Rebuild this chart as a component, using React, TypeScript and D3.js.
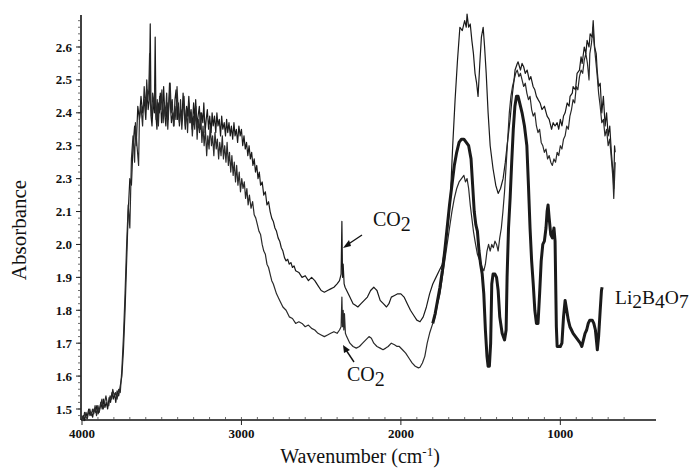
import React from "react";
import * as d3 from "d3";

type P = [number, number];

// Upper thin spectrum (wavenumber, absorbance)
const seriesA: P[] = [
[4000,1.47],[3991,1.48],[3983,1.465],[3975,1.49],[3968,1.475],[3958,1.50],[3950,1.48],[3941,1.49],[3933,1.475],[3925,1.50],[3916,1.49],[3907,1.51],[3899,1.485],[3890,1.50],[3882,1.52],[3873,1.50],[3865,1.53],[3856,1.505],[3848,1.52],[3839,1.50],[3830,1.535],[3821,1.52],[3812,1.55],[3804,1.53],[3796,1.545],[3788,1.52],[3780,1.555],[3770,1.54],[3760,1.57],[3750,1.60],[3740,1.68],[3730,1.80],[3720,1.95],[3710,2.10],[3700,2.20],[3690,2.18],[3680,2.30],[3670,2.36],[3660,2.30],[3650,2.42],[3640,2.38],[3630,2.45],[3620,2.40],[3610,2.44],
[3600,2.38],[3592,2.47],[3585,2.41],[3578,2.44],[3572,2.67],[3567,2.39],[3561,2.36],[3553,2.44],[3546,2.40],[3541,2.63],[3536,2.39],[3530,2.35],[3522,2.43],[3515,2.40],[3509,2.46],[3501,2.37],[3494,2.41],[3488,2.48],[3480,2.39],[3474,2.36],[3466,2.43],[3460,2.38],[3451,2.49],[3445,2.42],[3439,2.37],[3430,2.40],[3423,2.36],[3417,2.44],[3410,2.47],[3402,2.38],[3396,2.43],[3389,2.36],[3380,2.41],[3373,2.38],[3366,2.46],[3358,2.40],[3352,2.35],[3344,2.42],[3337,2.39],[3330,2.45],[3322,2.37],[3316,2.41],[3309,2.35],[3300,2.43],[3293,2.38],[3287,2.44],[3279,2.36],[3272,2.39],[3264,2.42],[3257,2.35],[3250,2.40],[3242,2.37],[3236,2.43],[3228,2.34],[3221,2.38],[3214,2.41],[3206,2.35],[3199,2.39],[3190,2.34],[3184,2.40],[3177,2.36],[3169,2.39],[3161,2.34],[3154,2.40],[3147,2.36],[3139,2.38],[3131,2.33],[3124,2.39],[3117,2.35],[3108,2.37],[3100,2.33],[3093,2.38],[3086,2.34],[3078,2.37],[3070,2.33],[3063,2.36],[3055,2.32],[3047,2.37],[3040,2.33],[3032,2.35],[3024,2.31],[3016,2.36],[3008,2.33],[3000,2.35],[2992,2.30],[2984,2.33],[2976,2.29],[2968,2.31],[2960,2.27],[2952,2.30],[2944,2.26],[2936,2.28],[2928,2.24],[2920,2.26],[2912,2.22],[2904,2.24],[2896,2.20],[2888,2.22],[2880,2.18],[2870,2.19],[2860,2.15],[2850,2.16],[2840,2.12],[2830,2.13],[2820,2.10],[2810,2.08],[2800,2.07],[2790,2.05],[2780,2.04],[2770,2.02],[2760,2.01],[2750,1.99],[2740,1.98],[2730,1.96],[2720,1.95],[2710,1.955],[2700,1.94],[2690,1.945],[2680,1.93],[2670,1.935],[2660,1.92],[2640,1.915],[2620,1.90],[2600,1.905],[2580,1.89],[2560,1.90],[2540,1.89],[2520,1.875],[2500,1.86],[2480,1.855],[2460,1.86],[2440,1.865],[2420,1.87],[2400,1.88],[2385,1.89],[2375,1.91],[2370,2.07],[2366,1.90],[2362,1.94],[2356,1.88],[2350,1.87],[2340,1.86],[2320,1.84],[2300,1.82],[2285,1.815],[2270,1.81],[2250,1.82],[2230,1.83],[2210,1.84],[2190,1.86],[2170,1.87],[2160,1.865],[2150,1.86],[2130,1.83],[2110,1.82],[2090,1.81],[2075,1.82],[2060,1.84],[2040,1.845],[2020,1.85],[2000,1.85],[1980,1.84],[1960,1.82],[1940,1.80],[1920,1.785],[1900,1.77],[1880,1.765],[1860,1.78],[1840,1.81],[1820,1.85],[1800,1.88],[1780,1.90],[1760,1.92],[1740,1.94],[1720,2.00],[1700,2.08],[1690,2.14],[1675,2.30],[1660,2.44],[1645,2.56],[1630,2.66],[1615,2.65],[1600,2.68],[1590,2.66],[1585,2.70],[1575,2.66],[1565,2.67],[1555,2.62],[1545,2.58],[1535,2.52],[1525,2.49],[1516,2.45],[1505,2.55],[1495,2.63],[1484,2.66],[1475,2.60],[1465,2.52],[1453,2.40],[1440,2.30],[1422,2.23],[1405,2.18],[1390,2.155],[1375,2.17],[1359,2.20],[1345,2.25],[1334,2.30],[1315,2.38],[1300,2.46],[1290,2.50],[1284,2.53],[1270,2.55],[1265,2.555],[1250,2.53],[1240,2.55],[1230,2.54],[1220,2.52],[1208,2.53],[1195,2.50],[1185,2.51],[1171,2.48],[1160,2.47],[1150,2.45],[1139,2.44],[1127,2.43],[1115,2.41],[1100,2.42],[1083,2.39],[1070,2.38],[1055,2.35],[1045,2.37],[1033,2.36],[1020,2.37],[1010,2.35],[1000,2.38],[990,2.36],[980,2.39],[970,2.40],[957,2.43],[945,2.42],[939,2.45],[925,2.46],[920,2.48],[905,2.47],[895,2.52],[880,2.53],[870,2.57],[863,2.55],[850,2.60],[840,2.58],[832,2.62],[820,2.60],[813,2.64],[800,2.63],[794,2.68],[785,2.60],[775,2.58],[769,2.53],[760,2.48],[750,2.49],[740,2.40],[730,2.45],[719,2.36],[710,2.40],[700,2.33],[690,2.36],[680,2.28],[670,2.22],[665,2.17],[660,2.30],[656,2.28]
];

// Lower thin spectrum
const seriesB: P[] = [
[4000,1.48],[3992,1.465],[3984,1.49],[3976,1.475],[3967,1.47],[3959,1.49],[3951,1.50],[3942,1.48],[3934,1.50],[3926,1.485],[3918,1.51],[3909,1.48],[3900,1.51],[3892,1.49],[3884,1.51],[3875,1.53],[3867,1.50],[3858,1.52],[3850,1.54],[3841,1.515],[3832,1.51],[3824,1.54],[3816,1.53],[3807,1.56],[3798,1.54],[3790,1.55],[3780,1.53],[3770,1.56],[3760,1.55],[3750,1.62],[3740,1.72],[3730,1.85],[3720,2.00],[3710,2.12],[3700,2.05],[3690,2.26],[3680,2.33],[3670,2.25],[3665,2.37],[3655,2.30],[3645,2.24],[3640,2.38],[3630,2.42],[3620,2.36],[3610,2.48],
[3600,2.41],[3594,2.50],[3588,2.44],[3581,2.47],[3576,2.58],[3571,2.43],[3564,2.39],[3557,2.46],[3549,2.42],[3543,2.48],[3535,2.38],[3528,2.44],[3521,2.36],[3513,2.45],[3506,2.41],[3499,2.47],[3491,2.37],[3484,2.43],[3477,2.39],[3469,2.46],[3462,2.35],[3455,2.42],[3447,2.49],[3440,2.40],[3434,2.44],[3426,2.36],[3418,2.42],[3411,2.38],[3404,2.48],[3397,2.41],[3389,2.37],[3382,2.44],[3374,2.35],[3367,2.40],[3360,2.45],[3352,2.36],[3345,2.41],[3338,2.34],[3330,2.43],[3323,2.37],[3315,2.40],[3308,2.33],[3300,2.39],[3293,2.35],[3286,2.42],[3278,2.32],[3271,2.38],[3263,2.34],[3256,2.40],[3248,2.31],[3241,2.36],[3234,2.30],[3226,2.35],[3218,2.27],[3211,2.33],[3203,2.29],[3196,2.36],[3188,2.30],[3181,2.33],[3173,2.27],[3166,2.34],[3158,2.29],[3151,2.32],[3143,2.26],[3136,2.31],[3128,2.27],[3120,2.33],[3113,2.26],[3105,2.30],[3097,2.25],[3090,2.31],[3082,2.24],[3075,2.28],[3067,2.22],[3060,2.27],[3052,2.21],[3045,2.25],[3037,2.19],[3030,2.24],[3022,2.18],[3014,2.22],[3006,2.16],[2998,2.20],[2990,2.17],[2982,2.19],[2974,2.14],[2966,2.17],[2958,2.12],[2950,2.15],[2940,2.11],[2930,2.13],[2920,2.09],[2910,2.08],[2900,2.06],[2890,2.04],[2880,2.03],[2870,2.00],[2860,1.98],[2850,1.97],[2840,1.94],[2830,1.93],[2820,1.91],[2810,1.89],[2800,1.88],[2780,1.85],[2760,1.83],[2740,1.81],[2720,1.80],[2700,1.78],[2680,1.775],[2660,1.76],[2640,1.765],[2620,1.76],[2600,1.75],[2580,1.755],[2560,1.745],[2540,1.74],[2520,1.73],[2500,1.725],[2480,1.72],[2460,1.725],[2440,1.73],[2420,1.735],[2400,1.73],[2385,1.74],[2375,1.75],[2370,1.84],[2366,1.75],[2362,1.80],[2358,1.74],[2354,1.79],[2348,1.73],[2340,1.72],[2320,1.70],[2300,1.69],[2280,1.685],[2260,1.69],[2240,1.70],[2220,1.71],[2200,1.72],[2185,1.715],[2170,1.70],[2150,1.69],[2130,1.685],[2112,1.68],[2095,1.685],[2080,1.69],[2060,1.70],[2040,1.695],[2024,1.69],[2010,1.69],[1990,1.68],[1970,1.67],[1950,1.655],[1930,1.64],[1910,1.63],[1890,1.625],[1880,1.627],[1865,1.64],[1850,1.66],[1835,1.70],[1820,1.73],[1800,1.76],[1785,1.78],[1770,1.82],[1755,1.85],[1740,1.90],[1725,1.95],[1710,2.00],[1695,2.05],[1680,2.10],[1665,2.14],[1650,2.17],[1635,2.19],[1620,2.20],[1605,2.21],[1595,2.19],[1585,2.20],[1575,2.17],[1565,2.12],[1555,2.08],[1545,2.04],[1535,2.01],[1520,1.97],[1505,1.95],[1490,1.93],[1480,1.92],[1470,1.94],[1460,1.98],[1450,2.00],[1440,1.98],[1430,2.00],[1420,1.99],[1410,2.01],[1400,2.00],[1390,1.98],[1380,2.02],[1370,2.05],[1360,2.10],[1350,2.16],[1340,2.24],[1330,2.32],[1320,2.40],[1310,2.45],[1300,2.48],[1290,2.50],[1280,2.52],[1270,2.53],[1260,2.51],[1250,2.52],[1240,2.50],[1230,2.48],[1220,2.49],[1210,2.46],[1200,2.44],[1190,2.45],[1180,2.41],[1170,2.39],[1160,2.40],[1150,2.36],[1140,2.34],[1130,2.35],[1120,2.31],[1110,2.30],[1100,2.28],[1090,2.29],[1080,2.26],[1070,2.27],[1060,2.25],[1050,2.24],[1040,2.26],[1030,2.25],[1020,2.28],[1010,2.27],[1000,2.30],[990,2.29],[980,2.32],[970,2.33],[960,2.36],[950,2.35],[940,2.39],[930,2.41],[920,2.44],[910,2.43],[900,2.48],[890,2.47],[880,2.51],[870,2.53],[860,2.52],[850,2.56],[840,2.58],[830,2.55],[820,2.50],[815,2.58],[805,2.61],[795,2.66],[790,2.62],[780,2.57],[770,2.52],[760,2.46],[750,2.42],[740,2.37],[730,2.38],[720,2.33],[710,2.35],[700,2.30],[690,2.32],[680,2.26],[670,2.20],[665,2.14],[660,2.20],[656,2.25]
];

// Thick Li2B4O7 spectrum
const seriesLi: P[] = [
[1800,1.76],[1785,1.79],[1770,1.83],[1755,1.87],[1740,1.92],[1725,1.98],[1710,2.05],[1695,2.12],[1680,2.18],[1665,2.24],[1650,2.28],[1635,2.31],[1620,2.32],[1605,2.32],[1590,2.31],[1575,2.30],[1560,2.26],[1550,2.18],[1540,2.10],[1530,2.06],[1520,2.04],[1510,1.98],[1500,1.94],[1490,1.91],[1480,1.85],[1470,1.74],[1460,1.66],[1453,1.63],[1445,1.63],[1437,1.70],[1430,1.88],[1422,1.91],[1410,1.91],[1400,1.90],[1390,1.86],[1380,1.78],[1365,1.73],[1350,1.71],[1340,1.74],[1334,1.90],[1325,2.05],[1315,2.14],[1305,2.25],[1295,2.35],[1285,2.42],[1275,2.45],[1265,2.45],[1255,2.43],[1240,2.40],[1225,2.36],[1210,2.30],[1200,2.18],[1190,2.05],[1180,1.95],[1170,1.88],[1160,1.80],[1150,1.76],[1140,1.76],[1130,1.85],[1120,1.95],[1110,2.00],[1100,2.01],[1090,2.05],[1083,2.10],[1077,2.12],[1070,2.08],[1060,2.03],[1050,2.02],[1040,2.05],[1033,2.01],[1025,1.75],[1020,1.69],[1010,1.69],[1000,1.69],[990,1.70],[980,1.78],[970,1.83],[960,1.80],[950,1.77],[940,1.75],[930,1.74],[920,1.73],[905,1.72],[890,1.71],[875,1.70],[865,1.69],[855,1.71],[845,1.73],[835,1.74],[825,1.76],[815,1.77],[800,1.77],[790,1.76],[780,1.74],[772,1.70],[768,1.68],[760,1.72],[750,1.80],[742,1.86],[738,1.87]
];

const yTickValues = [2.6, 2.5, 2.4, 2.3, 2.2, 2.1, 2.0, 1.9, 1.8, 1.7, 1.6, 1.5];
const yTickLabels = ["2.6", "2.5", "2.4", "2.3", "2.3", "2.1", "2.0", "1.9", "1.8", "1.7", "1.6", "1.5"];
const xTickValues = [4000, 3000, 2000, 1000];
const xTickLabels = ["4000", "3000", "2000", "1000"];

const SERIF = "'Liberation Serif', 'Times New Roman', serif";

export default function App() {
  const x = d3.scaleLinear().domain([4000, 400]).range([82, 656]);
  const y = d3.scaleLinear().domain([1.5, 2.6]).range([409, 47]);
  const line = d3.line<P>().x((d) => x(d[0])).y((d) => y(d[1]));
  const axisY = 420;
  const yTop = 15;

  const yMinor = d3.range(1.48, 2.69, 0.02);
  const xMinor = d3.range(3900, 500, -100);

  return (
    <svg width={694} height={468} style={{ position: "absolute", left: 0, top: 0, background: "#fff" }}>
      <rect width={694} height={468} fill="#fff" />
      {/* axes */}
      <line x1={81} y1={yTop} x2={81} y2={axisY} stroke="#111" strokeWidth={1.6} />
      <line x1={81} y1={axisY} x2={656} y2={axisY} stroke="#111" strokeWidth={1.6} />
      {yMinor.map((v, i) => (
        <line key={"ym" + i} x1={78} x2={81} y1={y(v)} y2={y(v)} stroke="#444" strokeWidth={0.8} />
      ))}
      {yTickValues.map((v, i) => (
        <g key={"yt" + i}>
          <line x1={76} x2={81} y1={y(v)} y2={y(v)} stroke="#222" strokeWidth={1} />
          <text x={72} y={y(v)} dy="0.35em" textAnchor="end" fontFamily={SERIF} fontWeight="bold" fontSize={13} fill="#111">
            {yTickLabels[i]}
          </text>
        </g>
      ))}
      {xMinor.map((v, i) => (
        <line key={"xm" + i} x1={x(v)} x2={x(v)} y1={axisY - 3} y2={axisY} stroke="#444" strokeWidth={0.8} />
      ))}
      {xTickValues.map((v, i) => (
        <g key={"xt" + i}>
          <line x1={x(v)} x2={x(v)} y1={axisY} y2={axisY + 5} stroke="#222" strokeWidth={1} />
          <text x={x(v)} y={axisY + 18} textAnchor="middle" fontFamily={SERIF} fontWeight="bold" fontSize={13} fill="#111">
            {xTickLabels[i]}
          </text>
        </g>
      ))}
      {/* axis titles */}
      <text x={360} y={463} textAnchor="middle" fontFamily={SERIF} fontSize={20} fill="#111">
        Wavenumber (cm<tspan dy={-7} fontSize={13}>-1</tspan><tspan dy={7}>)</tspan>
      </text>
      <text transform="translate(26,230) rotate(-90)" textAnchor="middle" fontFamily={SERIF} fontSize={21} fill="#111">
        Absorbance
      </text>
      {/* spectra */}
      <path d={line(seriesA) || ""} fill="none" stroke="#1a1a1a" strokeWidth={1.2} strokeLinejoin="round" />
      <path d={line(seriesB) || ""} fill="none" stroke="#2a2a2a" strokeWidth={1.2} strokeLinejoin="round" />
      <path d={line(seriesLi) || ""} fill="none" stroke="#1a1a1a" strokeWidth={3} strokeLinejoin="round" />
      {/* annotations */}
      <line x1={362} y1={235} x2={347} y2={245} stroke="#111" strokeWidth={1.4} />
      <path d="M343,248 L349,240 L351,246 Z" fill="#111" />
      <text x={373} y={226} fontFamily={SERIF} fontSize={20} fill="#111">
        CO<tspan dy={5}>2</tspan>
      </text>
      <line x1={354} y1={362} x2={346} y2={350} stroke="#111" strokeWidth={1.4} />
      <path d="M343,345 L350,350 L344,353 Z" fill="#111" />
      <text x={347} y={381} fontFamily={SERIF} fontSize={20} fill="#111">
        CO<tspan dy={5}>2</tspan>
      </text>
      <text x={615} y={304} fontFamily={SERIF} fontSize={19.5} fill="#111">
        Li<tspan dy={4}>2</tspan><tspan dy={-4}>B</tspan><tspan dy={4}>4</tspan><tspan dy={-4}>O</tspan><tspan dy={4}>7</tspan>
      </text>
    </svg>
  );
}
